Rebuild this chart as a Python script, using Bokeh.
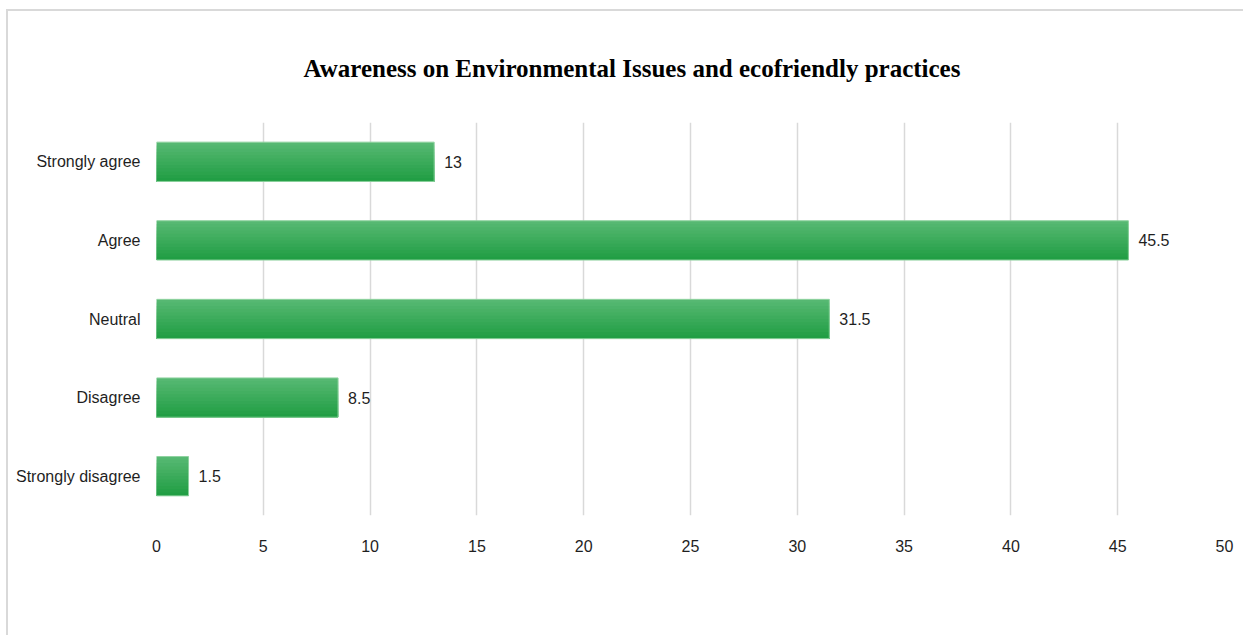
from bokeh.plotting import figure
from bokeh.models import ColumnDataSource, FactorRange
from bokeh.transform import dodge
from bokeh.embed import file_html
from bokeh.resources import INLINE
from bokeh.core.properties import value

# Survey responses (percent of respondents)
categories = ["Strongly agree", "Agree", "Neutral", "Disagree", "Strongly disagree"]
percentages = [13, 45.5, 31.5, 8.5, 1.5]
x_ticks = [0, 5, 10, 15, 20, 25, 30, 35, 40, 45, 50]

title_text = "Awareness  on Environmental  Issues and ecofriendly practices"
label_font = "Liberation Sans"
text_color = "#1f1f1f"

src = ColumnDataSource(dict(
    cat=categories,
    val=percentages,
    lbl=[f"{v:g}" for v in percentages],
))

p = figure(
    width=1237, height=626,
    y_range=FactorRange(*reversed(categories)),
    x_range=(0, 50),
    output_backend="svg",
    toolbar_location=None,
    title=title_text,
    min_border_left=148, min_border_right=21,
    min_border_top=111, min_border_bottom=122,
)
p.styles = {
    "margin-left": "6px",
    "margin-top": "9px",
    "border-top": "2px solid #d9d9d9",
    "border-left": "2px solid #d9d9d9",
}
p.outline_line_color = None
p.background_fill_color = "white"
p.border_fill_color = "white"

# Title
p.title.text_font = "Liberation Serif"
p.title.text_font_style = "bold"
p.title.text_font_size = "25px"
p.title.text_color = "black"
p.title.align = "left"
p.title.offset = 147
p.title.standoff = 82

# Bars: nested rectangles sharing the bar bottom give a light-to-dark
# green shade from top to bottom without visible seams
bar_h = 0.5
n_steps = 12
top_rgb = (0x56, 0xB8, 0x72)
bot_rgb = (0x21, 0x9E, 0x44)
step_h = bar_h / n_steps
for k in range(n_steps):
    t = k / (n_steps - 1)
    rgb = tuple(round(a + (b - a) * t) for a, b in zip(top_rgb, bot_rgb))
    col = "#%02x%02x%02x" % rgb
    h = bar_h - k * step_h
    off = -bar_h / 2 + h / 2
    p.hbar(y=dodge("cat", off, range=p.y_range), right="val", left=0,
           height=h, source=src, fill_color=col, line_color=None)

# thin light outline around each bar
p.hbar(y="cat", right="val", left=0, height=bar_h, source=src,
       fill_color=None, line_color="#8ed29f", line_width=1)

# value labels at bar ends
p.text(x="val", y="cat", text="lbl", source=src, x_offset=10,
       text_baseline="middle", text_align="left",
       text_font=value(label_font), text_font_size="16px", text_color=text_color)

# Axes
p.xaxis.ticker = x_ticks
for ax in (p.xaxis, p.yaxis):
    ax.axis_line_color = None
    ax.major_tick_line_color = None
    ax.minor_tick_line_color = None
    ax.major_tick_in = 0
    ax.major_tick_out = 0
    ax.major_label_text_font = label_font
    ax.major_label_text_font_size = "16px"
    ax.major_label_text_color = text_color
p.xaxis.major_label_standoff = 24
p.yaxis.major_label_standoff = 16

p.xgrid.grid_line_color = "#d9d9d9"
p.xgrid.grid_line_width = 1.5
p.ygrid.grid_line_color = None

open("out.html", "w").write(file_html(p, INLINE))
